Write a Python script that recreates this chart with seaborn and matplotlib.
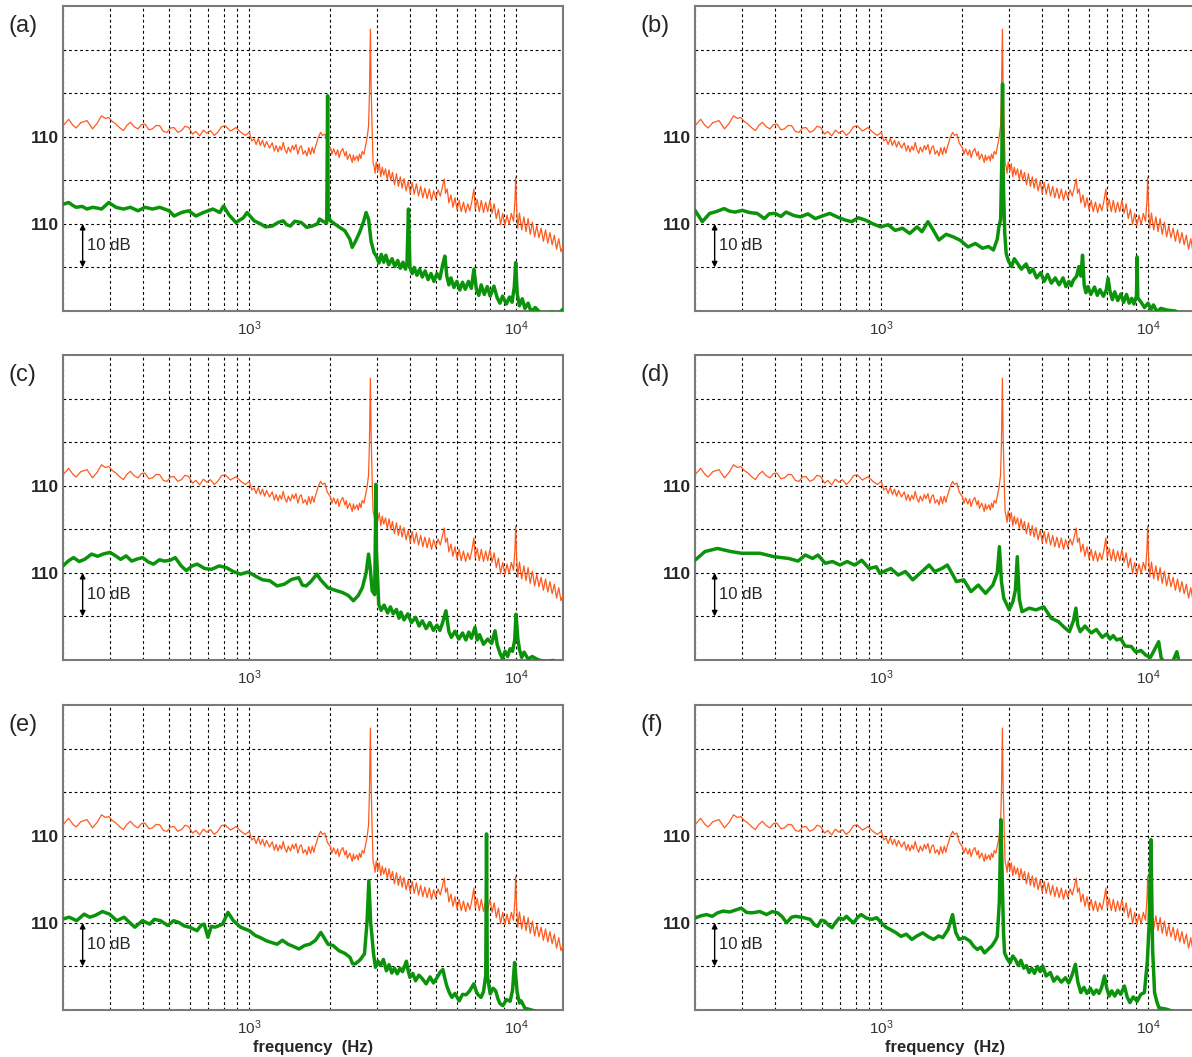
import matplotlib
matplotlib.use("Agg")
import matplotlib.pyplot as plt
import seaborn as sns
from matplotlib.ticker import LogLocator, NullFormatter, FixedLocator, FixedFormatter

sns.set_theme(style="white")
plt.rcParams['font.family'] = ['Liberation Sans', 'DejaVu Sans']
plt.rcParams['mathtext.default'] = 'regular'

# ---------------- data: (frequency Hz, level dB) ----------------
ref_trace = [
    (200, 112.5), (210, 114.0), (218, 112.6), (224, 112.0), (233, 113.2), (246, 113.7), (258, 111.8),
    (268, 113.0), (279, 114.8), (288, 114.2), (297, 114.4), (306, 113.5), (316, 112.9), (327, 112.0),
    (337, 111.4), (347, 112.6), (358, 113.3), (370, 112.3), (382, 111.8), (394, 112.8), (406, 112.9),
    (420, 111.6), (433, 111.8), (447, 112.6), (461, 112.5), (476, 111.2), (491, 111.0), (506, 112.0),
    (522, 112.1), (539, 111.0), (556, 111.4), (574, 112.4), (592, 112.1), (612, 110.6), (630, 111.2),
    (651, 110.2), (672, 111.5), (693, 110.8), (715, 111.4), (738, 110.3), (761, 111.0), (786, 112.3),
    (811, 112.5), (850, 111.3), (890, 112.1), (930, 111.0), (965, 110.3), (1000, 111.0), (1020, 109.0),
    (1042, 109.5), (1060, 108.2), (1080, 109.6), (1100, 108.0), (1120, 109.2), (1140, 107.6), (1160, 108.9),
    (1190, 107.4), (1218, 108.6), (1240, 106.7), (1260, 108.0), (1280, 106.5), (1300, 107.8),
    (1320, 106.9), (1339, 108.7), (1360, 107.0), (1380, 106.2), (1400, 107.6), (1425, 106.5),
    (1450, 108.0), (1470, 107.0), (1495, 108.2), (1520, 106.0), (1545, 107.6), (1566, 107.9),
    (1590, 106.0), (1620, 106.8), (1645, 105.6), (1670, 107.5), (1695, 105.9), (1721, 107.6),
    (1745, 106.2), (1770, 107.8), (1790, 108.6), (1810, 109.8), (1850, 111.0), (1880, 110.3),
    (1920, 110.6), (1960, 108.5), (2013, 107.5), (2040, 106.0), (2070, 107.2), (2110, 105.8),
    (2143, 107.0), (2170, 105.2), (2200, 106.5), (2240, 107.3), (2282, 105.6), (2310, 106.6),
    (2330, 104.8), (2380, 106.0), (2430, 104.1), (2455, 105.8), (2480, 104.6), (2530, 105.6),
    (2560, 104.4), (2588, 106.0), (2620, 105.0), (2650, 106.6), (2690, 106.0), (2712, 107.2),
    (2760, 109.5), (2799, 112.5), (2820, 120.0), (2843, 134.7), (2860, 122.0), (2888, 111.0),
    (2910, 104.0), (2933, 103.3), (2960, 101.6), (2990, 104.2), (3030, 102.0), (3070, 103.8),
    (3110, 100.8), (3150, 103.0), (3190, 101.2), (3240, 102.6), (3290, 100.2), (3340, 102.4),
    (3390, 100.0), (3440, 101.8), (3500, 99.0), (3560, 101.5), (3620, 98.6), (3680, 100.8),
    (3740, 98.2), (3800, 100.4), (3870, 97.6), (3940, 99.8), (4010, 97.0), (4080, 99.5), (4150, 96.8),
    (4230, 99.2), (4310, 96.4), (4390, 98.6), (4470, 96.0), (4550, 98.2), (4640, 95.8), (4730, 98.0),
    (4820, 95.4), (4910, 97.6), (5000, 95.8), (5100, 97.8), (5200, 96.4), (5300, 98.6), (5380, 100.3),
    (5440, 97.0), (5520, 98.0), (5600, 94.8), (5700, 96.6), (5800, 93.8), (5900, 96.0), (6010, 93.2),
    (6120, 95.4), (6230, 92.8), (6350, 95.0), (6470, 92.6), (6590, 94.6), (6710, 93.0), (6830, 95.2),
    (6950, 98.0), (7030, 93.4), (7150, 95.6), (7280, 92.8), (7410, 95.4), (7550, 92.6), (7690, 95.0),
    (7830, 92.8), (7980, 95.4), (8130, 92.4), (8280, 94.6), (8430, 91.2), (8590, 93.4), (8750, 89.8),
    (8910, 92.4), (9080, 89.6), (9250, 92.0), (9420, 89.8), (9600, 92.4), (9780, 90.6), (9900, 95.0),
    (9970, 100.7), (10050, 93.5), (10150, 89.0), (10300, 92.5), (10500, 88.6), (10700, 91.6),
    (10900, 88.2), (11100, 91.2), (11300, 87.6), (11520, 90.4), (11740, 87.0), (11960, 89.6),
    (12190, 86.8), (12420, 89.0), (12660, 86.0), (12900, 88.6), (13150, 85.6), (13400, 88.0),
    (13660, 85.2), (13920, 87.4), (14190, 84.2), (14460, 86.6), (14740, 83.6), (15000, 84.9)]

a_trace = [
    (200, 114.5), (210, 114.9), (218, 114.2), (224, 113.8), (236, 114.0), (246, 113.4), (258, 113.8),
    (270, 113.6), (279, 113.4), (297, 114.9), (316, 113.8), (337, 113.4), (358, 113.8), (382, 113.0),
    (406, 113.8), (433, 113.4), (461, 113.8), (500, 113.0), (522, 111.8), (556, 112.6), (592, 113.0),
    (630, 111.8), (672, 112.6), (730, 113.4), (775, 112.6), (800, 114.1), (840, 112.0), (890, 110.3),
    (950, 111.4), (980, 112.6), (1042, 110.7), (1100, 110.0), (1150, 109.3), (1218, 109.5),
    (1280, 110.3), (1339, 110.7), (1380, 109.8), (1425, 109.5), (1480, 110.6), (1566, 110.3),
    (1640, 109.2), (1721, 109.5), (1800, 110.0), (1832, 111.1), (1900, 110.5), (1950, 110.2),
    (1965, 139.4), (1975, 112.0), (2013, 110.7), (2143, 109.5), (2282, 108.4), (2380, 106.5),
    (2430, 104.6), (2500, 106.0), (2588, 108.0), (2680, 110.5), (2740, 112.6), (2800, 111.0),
    (2860, 106.0), (2933, 103.4), (3000, 102.5), (3060, 101.0), (3124, 103.0), (3190, 101.2),
    (3250, 102.8), (3330, 100.6), (3429, 102.0), (3510, 100.2), (3600, 101.6), (3680, 99.8),
    (3767, 101.2), (3850, 99.6), (3900, 101.0), (3950, 113.4), (4000, 100.0), (4080, 98.6),
    (4150, 100.0), (4250, 98.2), (4350, 99.6), (4450, 97.8), (4560, 99.2), (4680, 97.2), (4800, 98.6),
    (4920, 96.8), (5050, 98.6), (5180, 97.4), (5300, 100.5), (5408, 102.6), (5500, 98.0), (5600, 96.0),
    (5700, 97.6), (5850, 95.4), (6000, 96.8), (6150, 94.8), (6300, 96.6), (6450, 95.0), (6630, 96.8),
    (6800, 95.2), (6950, 99.6), (7100, 95.0), (7250, 93.6), (7400, 96.0), (7600, 93.8), (7800, 95.6),
    (8000, 93.4), (8260, 95.7), (8500, 93.0), (8700, 91.8), (8900, 93.4), (9200, 91.6), (9450, 93.2),
    (9660, 92.0), (9850, 95.5), (9970, 101.1), (10100, 94.0), (10290, 91.2), (10550, 92.8),
    (10800, 90.6), (11100, 91.8), (11400, 89.8), (11800, 90.8), (12420, 89.4), (13000, 89.5),
    (13650, 89.8), (14300, 89.2), (15000, 90.4)]

b_trace = [
    (200, 113.1), (213, 110.5), (227, 112.4), (240, 112.8), (257, 113.5), (270, 112.9), (283, 112.7),
    (301, 113.1), (320, 112.6), (342, 112.4), (364, 111.2), (380, 112.3), (400, 112.4), (420, 111.7),
    (439, 112.7), (470, 111.9), (498, 111.6), (530, 112.3), (565, 111.2), (600, 111.8), (640, 112.4),
    (682, 111.6), (730, 110.9), (773, 110.5), (820, 111.4), (876, 110.8), (930, 110.0), (994, 109.3),
    (1060, 109.8), (1127, 108.5), (1200, 109.0), (1277, 107.8), (1361, 109.3), (1420, 108.2),
    (1495, 110.5), (1560, 108.7), (1643, 106.3), (1750, 107.6), (1862, 107.0), (1980, 106.2),
    (2112, 104.7), (2250, 105.5), (2395, 104.4), (2520, 104.8), (2632, 104.0), (2720, 106.5),
    (2759, 109.3), (2800, 111.0), (2830, 125.0), (2847, 142.1), (2865, 120.0), (2900, 108.0),
    (2937, 103.2), (3000, 101.4), (3078, 100.2), (3150, 102.0), (3250, 100.8), (3350, 99.6),
    (3490, 100.8), (3600, 98.8), (3700, 99.6), (3820, 97.6), (3958, 98.8), (4080, 96.8), (4200, 98.4),
    (4340, 96.4), (4488, 97.6), (4640, 96.0), (4800, 97.6), (4920, 95.6), (5050, 96.8), (5150, 95.8),
    (5250, 97.1), (5400, 98.0), (5503, 100.2), (5600, 98.0), (5680, 102.8), (5760, 96.0), (5850, 94.2),
    (5955, 95.6), (6100, 93.8), (6300, 95.5), (6450, 93.6), (6600, 94.9), (6800, 93.4), (6970, 94.8),
    (7080, 97.5), (7200, 94.5), (7350, 92.6), (7500, 94.4), (7700, 92.4), (7907, 93.9), (8100, 92.0),
    (8300, 93.8), (8500, 91.8), (8683, 92.9), (8850, 91.6), (9050, 93.5), (9100, 102.4), (9150, 93.0),
    (9400, 92.1), (9700, 90.8), (10000, 91.8), (10250, 90.4), (10480, 91.4), (10800, 89.8),
    (11160, 90.6), (11800, 90.2), (12650, 90.0), (13500, 89.0), (15000, 88.5)]

c_trace = [
    (200, 111.6), (210, 112.8), (219, 113.5), (230, 112.6), (241, 113.1), (256, 114.3), (270, 113.8),
    (282, 114.3), (300, 114.7), (315, 113.9), (329, 113.1), (345, 113.9), (362, 112.7), (380, 113.2),
    (398, 113.5), (418, 112.5), (437, 112.0), (460, 113.0), (480, 112.7), (505, 112.9), (527, 113.5),
    (555, 111.6), (580, 110.5), (610, 111.6), (637, 112.0), (680, 111.0), (721, 110.8), (770, 111.6),
    (819, 111.2), (870, 110.3), (927, 109.7), (990, 110.2), (1051, 109.3), (1120, 108.4), (1192, 108.2),
    (1270, 107.0), (1352, 107.4), (1440, 108.5), (1531, 108.9), (1580, 107.2), (1632, 107.0),
    (1700, 108.0), (1792, 109.7), (1850, 108.4), (1968, 106.6), (2100, 106.0), (2233, 105.5),
    (2350, 104.8), (2455, 103.6), (2560, 104.8), (2653, 106.6), (2740, 110.0), (2798, 114.3),
    (2840, 111.0), (2887, 105.9), (2950, 105.0), (2970, 120.0), (2980, 130.3), (2995, 115.0),
    (3055, 102.8), (3120, 101.4), (3200, 102.6), (3300, 100.8), (3380, 102.2), (3464, 100.6),
    (3560, 101.6), (3640, 99.6), (3700, 101.0), (3800, 99.2), (3927, 100.6), (4050, 98.6), (4200, 99.8),
    (4330, 97.8), (4452, 99.0), (4600, 97.2), (4750, 98.6), (4900, 96.8), (5047, 98.0), (5180, 96.8),
    (5300, 98.5), (5459, 101.3), (5600, 96.5), (5721, 95.2), (5900, 96.6), (6100, 94.8), (6300, 96.2),
    (6486, 94.6), (6650, 96.4), (6800, 95.0), (7016, 97.5), (7150, 94.6), (7300, 95.8), (7550, 93.6),
    (7830, 94.8), (8100, 93.8), (8340, 96.7), (8500, 93.5), (8700, 91.6), (8880, 90.4), (9100, 92.0),
    (9300, 90.8), (9500, 92.6), (9700, 92.0), (9880, 94.5), (10000, 100.5), (10150, 95.0),
    (10300, 92.4), (10500, 90.6), (10720, 91.8), (11100, 90.2), (11500, 90.8), (12150, 90.0),
    (13000, 89.6), (13770, 89.9), (14500, 89.0), (15000, 88.5)]

d_trace = [
    (200, 112.9), (218, 114.9), (243, 115.6), (272, 114.9), (299, 114.5), (350, 114.5), (396, 113.7),
    (450, 113.3), (487, 112.7), (518, 114.1), (552, 113.3), (578, 114.1), (616, 112.2), (656, 112.6),
    (699, 111.8), (744, 112.6), (793, 111.8), (844, 112.9), (899, 111.0), (957, 111.4), (987, 109.9),
    (1085, 111.0), (1156, 109.5), (1231, 110.3), (1311, 108.4), (1396, 109.9), (1510, 111.8),
    (1583, 110.3), (1686, 111.0), (1767, 111.8), (1824, 110.3), (1912, 108.0), (2036, 108.4),
    (2168, 105.7), (2309, 107.2), (2459, 105.3), (2618, 107.2), (2720, 110.0), (2771, 116.0),
    (2820, 108.0), (2877, 104.2), (3017, 101.5), (3113, 103.4), (3180, 106.0), (3233, 113.7),
    (3290, 104.0), (3368, 101.1), (3586, 101.9), (3800, 101.5), (4065, 102.2), (4330, 99.6),
    (4613, 98.8), (4850, 97.5), (5070, 96.5), (5250, 99.0), (5364, 101.9), (5450, 98.0), (5570, 96.5),
    (5800, 97.8), (6120, 96.2), (6400, 97.0), (6730, 95.2), (7000, 96.0), (7200, 94.8), (7400, 95.6),
    (7630, 94.6), (7900, 94.9), (8200, 93.2), (8650, 93.1), (9000, 91.8), (9400, 92.2), (9820, 91.1),
    (10200, 90.6), (10500, 92.0), (10960, 94.2), (11200, 90.5), (11480, 89.5), (12300, 89.2),
    (12820, 91.9), (13100, 89.3), (13430, 88.5), (15000, 87.5)]

e_trace = [
    (200, 110.9), (211, 111.3), (225, 110.5), (240, 112.0), (252, 111.3), (264, 111.7), (281, 112.6),
    (299, 112.0), (318, 110.5), (339, 111.3), (355, 110.1), (372, 109.0), (397, 110.5), (423, 109.7),
    (440, 110.8), (464, 110.5), (494, 109.4), (520, 110.5), (543, 110.1), (570, 109.3), (597, 109.0),
    (636, 108.2), (660, 109.5), (677, 109.7), (699, 106.7), (720, 109.2), (744, 109.0), (793, 109.7),
    (831, 112.4), (871, 110.5), (927, 109.0), (1000, 108.2), (1052, 107.1), (1100, 106.6),
    (1156, 105.9), (1210, 105.5), (1270, 105.1), (1330, 106.0), (1396, 105.1), (1460, 104.6),
    (1534, 104.0), (1610, 104.8), (1686, 105.1), (1770, 106.0), (1853, 107.8), (1910, 106.5),
    (1972, 105.1), (2060, 104.8), (2168, 103.6), (2280, 103.0), (2383, 102.1), (2440, 100.6),
    (2497, 100.6), (2600, 101.5), (2702, 102.9), (2760, 110.0), (2806, 119.7), (2850, 110.0),
    (2877, 107.4), (2920, 103.0), (2970, 99.8), (3040, 101.2), (3100, 100.2), (3180, 101.6),
    (3264, 99.0), (3340, 100.4), (3420, 98.5), (3500, 99.6), (3586, 98.3), (3670, 99.6), (3750, 98.8),
    (3820, 100.0), (3880, 101.2), (3940, 99.0), (4000, 97.5), (4100, 98.4), (4198, 96.7), (4320, 98.0),
    (4450, 97.2), (4600, 96.0), (4760, 97.6), (4900, 96.2), (5050, 97.4), (5180, 98.6), (5315, 99.3),
    (5400, 97.4), (5500, 95.5), (5620, 94.0), (5750, 92.9), (5900, 93.8), (6120, 92.1), (6300, 93.6),
    (6500, 93.5), (6700, 94.4), (6943, 96.0), (7100, 94.2), (7200, 93.5), (7390, 92.9), (7550, 94.2),
    (7700, 98.0), (7750, 130.4), (7800, 98.0), (8000, 93.7), (8200, 95.0), (8385, 94.4), (8550, 92.6),
    (8700, 91.5), (8930, 91.0), (9200, 92.4), (9500, 92.0), (9700, 94.5), (9875, 100.9), (10000, 97.0),
    (10100, 94.0), (10300, 91.6), (10450, 92.1), (10800, 90.4), (11120, 90.2), (12220, 89.5),
    (13000, 89.0), (15000, 88.0)]

f_trace = [
    (200, 111.1), (210, 111.6), (221, 111.9), (232, 111.5), (243, 112.3), (255, 112.7), (270, 112.5),
    (289, 113.1), (298, 113.4), (312, 112.4), (327, 112.3), (350, 112.6), (371, 111.9), (390, 112.6),
    (408, 112.3), (425, 111.4), (441, 110.0), (460, 111.3), (477, 111.5), (510, 111.2), (541, 110.8),
    (560, 109.6), (576, 109.2), (595, 110.6), (613, 110.4), (635, 109.4), (653, 108.9), (675, 110.2),
    (695, 111.1), (720, 110.8), (740, 111.5), (765, 110.6), (788, 110.0), (815, 111.3), (839, 111.9),
    (880, 111.1), (922, 110.8), (960, 111.2), (1000, 110.0), (1040, 109.0), (1078, 108.5),
    (1130, 107.8), (1185, 106.9), (1240, 107.4), (1301, 106.2), (1360, 107.0), (1430, 107.7),
    (1500, 106.8), (1571, 106.2), (1640, 107.0), (1699, 106.6), (1780, 108.5), (1849, 111.9),
    (1900, 107.8), (1957, 106.2), (2050, 106.6), (2150, 105.8), (2220, 104.6), (2289, 103.9),
    (2360, 104.4), (2438, 103.1), (2520, 104.0), (2596, 104.7), (2680, 106.0), (2720, 106.9),
    (2770, 115.0), (2806, 133.7), (2840, 120.0), (2870, 108.0), (2897, 103.1), (2960, 101.8),
    (3036, 100.8), (3110, 102.4), (3180, 101.6), (3260, 100.2), (3335, 101.4), (3420, 99.6),
    (3500, 100.2), (3580, 98.6), (3664, 99.6), (3750, 98.4), (3850, 100.0), (3940, 98.8), (4025, 100.1),
    (4150, 97.8), (4300, 98.6), (4430, 96.6), (4565, 97.6), (4730, 96.4), (4900, 97.4), (5040, 96.2),
    (5175, 97.8), (5340, 100.5), (5450, 96.5), (5596, 94.0), (5750, 95.2), (5900, 93.8), (6080, 95.0),
    (6246, 93.6), (6400, 94.6), (6550, 93.8), (6700, 95.2), (6863, 97.8), (7000, 95.0), (7150, 93.2),
    (7308, 94.4), (7500, 93.2), (7700, 94.5), (7900, 93.6), (8155, 95.5), (8350, 93.0), (8550, 91.7),
    (8800, 93.0), (9100, 92.0), (9400, 93.6), (9690, 94.0), (9940, 101.2), (10100, 110.0),
    (10256, 129.1), (10400, 104.0), (10580, 94.0), (10800, 91.8), (10990, 90.5), (11700, 90.2),
    (12500, 89.6), (13500, 89.3), (15000, 88.5)]

panel_labels = ["(a)", "(b)", "(c)", "(d)", "(e)", "(f)"]
green_traces = [a_trace, b_trace, c_trace, d_trace, e_trace, f_trace]
ytick_labels = ["110", "110"]
scale_text = "10 dB"
xlabel_text = "frequency  (Hz)"

# ---------------- styling / layout ----------------
ORANGE = "#ff5a1e"
GREEN = "#0b940b"
REF_OFFSET = 70     # display = dB - offset (reference trace shifted up)
GREEN_OFFSET = 90
W, H = 1192, 1057
col_left = [63, 695]
row_top = [6, 355, 705]
ax_w, ax_h = 500, 305

fig = plt.figure(figsize=(W / 100, H / 100), dpi=100)

rf = [p[0] for p in ref_trace]
rv = [p[1] - REF_OFFSET for p in ref_trace]

for i in range(6):
    r, c = divmod(i, 2)
    ax = fig.add_axes([col_left[c] / W, 1 - (row_top[r] + ax_h) / H, ax_w / W, ax_h / H])
    ax.set_xscale("log")

    gf = [p[0] for p in green_traces[i]]
    gv = [p[1] - GREEN_OFFSET for p in green_traces[i]]
    sns.lineplot(x=rf, y=rv, ax=ax, color=ORANGE, lw=0.9, estimator=None, sort=False, zorder=3)
    sns.lineplot(x=gf, y=gv, ax=ax, color=GREEN, lw=2.5, estimator=None, sort=False, zorder=4)

    ax.set_xlim(200, 15000)
    ax.set_ylim(0, 70)
    ax.xaxis.set_major_locator(LogLocator(base=10))
    ax.xaxis.set_minor_locator(LogLocator(base=10, subs=range(2, 10)))
    ax.xaxis.set_minor_formatter(NullFormatter())
    ax.yaxis.set_major_locator(FixedLocator([10, 20, 30, 40, 50, 60]))
    ax.yaxis.set_major_formatter(FixedFormatter(["", ytick_labels[1], "", ytick_labels[0], "", ""]))
    ax.grid(True, which="both", axis="x", color="black", lw=0.8, ls=(0, (2.5, 2.5)))
    ax.grid(True, which="major", axis="y", color="black", lw=0.8, ls=(0, (2.5, 2.5)))
    ax.tick_params(axis="y", which="both", length=0, pad=3, labelsize=12.5)
    for t in ax.get_yticklabels():
        t.set_fontweight("bold")
    ax.tick_params(axis="x", which="both", length=0, pad=6, labelsize=11, labelcolor="#333333")
    for s in ax.spines.values():
        s.set_color("#7a7a7a")
        s.set_linewidth(1.5)
        s.set_visible(True)
    ax.set_xlabel("")
    ax.set_ylabel("")

    # 10 dB scale arrow
    ax.annotate("", xy=(237, 10), xytext=(237, 20),
                arrowprops=dict(arrowstyle="<|-|>", color="black", lw=1.0,
                                mutation_scale=8, shrinkA=0, shrinkB=0), zorder=6)
    ax.text(247, 15, scale_text, ha="left", va="center", fontsize=12, zorder=6)

    if r == 2:
        ax.set_xlabel(xlabel_text, fontsize=12, fontweight="bold", labelpad=2)

    fig.text((8 if c == 0 else 640) / W, 1 - (row_top[r] + 20) / H, panel_labels[i],
             fontsize=17, ha="left", va="center")

fig.savefig("out.png", dpi=100)
